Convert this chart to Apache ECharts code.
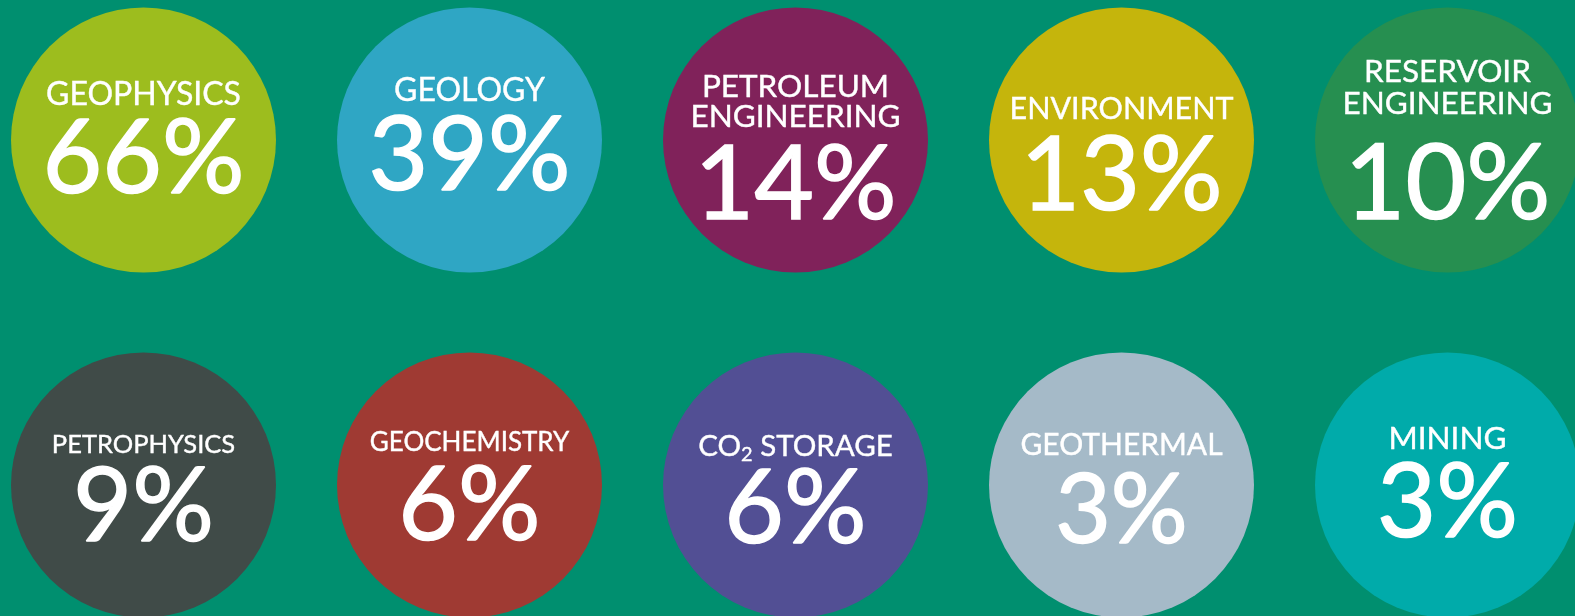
<!DOCTYPE html>
<html>
<head>
<meta charset="utf-8">
<script src="https://cdn.jsdelivr.net/npm/echarts@6/dist/echarts.min.js"></script>
<style>
html,body{margin:0;padding:0;background:#008F6F;}
#chart{width:1575px;height:616px;}
</style>
</head>
<body>
<div id="chart"></div>
<script>
// ---- data ----
const categories = ['GEOPHYSICS', 'GEOLOGY', 'PETROLEUM\nENGINEERING', 'ENVIRONMENT', 'RESERVOIR\nENGINEERING',
                    'PETROPHYSICS', 'GEOCHEMISTRY', 'CO₂ STORAGE', 'GEOTHERMAL', 'MINING'];
const shares = [66, 39, 14, 13, 10, 9, 6, 6, 3, 3];
const columns = [0, 1, 2, 3, 4, 0, 1, 2, 3, 4];
const rows = [0, 0, 0, 0, 0, 1, 1, 1, 1, 1];

// ---- styles ----
const palette = ['#9DBD1E', '#2FA6C4', '#80225A', '#C5B50C', '#268F50',
                 '#404B48', '#9F3A33', '#524F94', '#A5BAC8', '#00ABAA'];
const titleSize = [32, 32, 31.5, 30.5, 31.5, 25.5, 26, 29.5, 30, 31.5];
const titleDy = [-45, -49, -38, -31, -52, -40.5, -42.5, -39, -40, -46];
const titleLH = [30, 30, 30.5, 30, 32, 30, 30, 37, 30, 30];
const valueSize = [103, 103, 103, 103, 105, 102, 103, 103, 96, 102];
const valueDy = [19.5, 16.5, 45.5, 36.5, 45.5, 23, 21.5, 24.5, 27, 19];

const FONT = 'Lato, "Open Sans", sans-serif';

const circleData = shares.map((v, i) => ({
  value: [columns[i], rows[i], v],
  itemStyle: { color: palette[i], opacity: 1 }
}));
const titleData = categories.map((c, i) => ({
  value: [columns[i], rows[i]],
  label: {
    show: true,
    position: 'inside',
    offset: [0, titleDy[i]],
    formatter: c.replace('₂', '{sub|2}'),
    color: '#fff',
    opacity: 1,
    fontFamily: FONT,
    fontSize: titleSize[i],
    lineHeight: titleLH[i],
    textBorderColor: '#fff',
    textBorderWidth: 0.4,
    align: 'center',
    verticalAlign: 'middle',
    rich: {
      sub: { fontSize: 20, lineHeight: 20, color: '#fff', fontFamily: FONT, verticalAlign: 'bottom',
             textBorderColor: '#fff', textBorderWidth: 0.4 }
    }
  }
}));
const valueData = shares.map((v, i) => ({
  value: [columns[i], rows[i]],
  label: {
    show: true,
    position: 'inside',
    offset: [0, valueDy[i]],
    formatter: v + '%',
    color: '#fff',
    opacity: 1,
    fontFamily: FONT,
    fontSize: valueSize[i],
    textBorderColor: '#fff',
    textBorderWidth: 1.5,
    align: 'center',
    verticalAlign: 'middle'
  }
}));

const chart = echarts.init(document.getElementById('chart'), null, { renderer: 'canvas' });
chart.setOption({
  backgroundColor: '#008F6F',
  animation: false,
  grid: { left: 0, right: 0, top: 0, bottom: 0 },
  xAxis: { type: 'value', min: -143.5 / 326, max: (1575 - 143.5) / 326, show: false },
  yAxis: { type: 'value', inverse: true, min: -140 / 345, max: (616 - 140) / 345, show: false },
  series: [
    { type: 'scatter', symbol: 'circle', symbolSize: 265, silent: true,
      itemStyle: { opacity: 1 }, data: circleData },
    { type: 'scatter', symbolSize: 0, silent: true, itemStyle: { opacity: 1 }, data: titleData },
    { type: 'scatter', symbolSize: 0, silent: true, itemStyle: { opacity: 1 }, data: valueData }
  ]
});
</script>
</body>
</html>
